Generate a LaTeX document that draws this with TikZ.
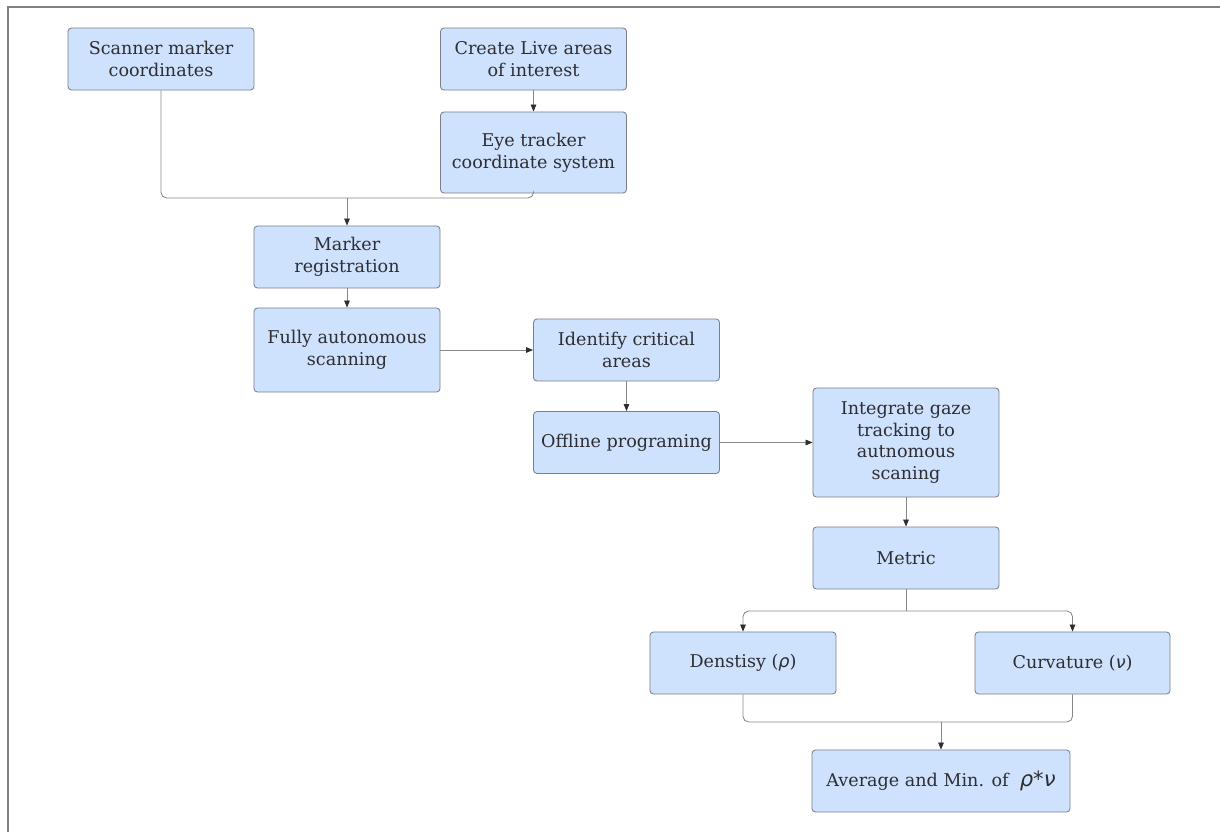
\documentclass[tikz,border=0pt]{standalone}
\usepackage{fontspec}
\setmainfont{DejaVu Serif}
\newfontfamily\greekfont{DejaVu Sans}
\usetikzlibrary{arrows.meta, positioning, calc}
\definecolor{myblue}{RGB}{207,226,253}
\definecolor{myedge}{RGB}{122,128,138}
\definecolor{myline}{RGB}{135,135,135}
\definecolor{mydark}{RGB}{45,45,50}
\definecolor{myframe}{RGB}{128,128,128}
\newcommand{\grk}[1]{{\greekfont\itshape #1}}
\tikzset{
  block/.style={rectangle, draw=myedge, fill=myblue,
    align=center, minimum width=4.65cm, minimum height=1.55cm,
    inner sep=2pt, font=\fontsize{12.5}{15.5}\selectfont, text=mydark,
    rounded corners=2.5pt, line width=0.6pt},
  arrow/.style={-{Triangle[length=5pt, width=4pt, color=mydark]},
    line width=0.6pt, color=myline, rounded corners=4pt},
  line/.style={line width=0.6pt, color=myline, rounded corners=4pt},
  frame/.style={line width=1.2pt, color=myframe}
}

\begin{document}
\begin{tikzpicture}[x=0.025cm, y=-0.025cm]
  \useasboundingbox (0,0) rectangle (1220,832);
  % Page frame (top and left edges only)
  \draw[frame] (8,832) -- (8,7) -- (1220,7);

  % Input blocks
  \node[block] (scan) at (161,59) {Scanner marker\\coordinates};
  \node[block] (live) at (533.5,59) {Create Live areas\\of interest};
  \node[block, minimum height=2.025cm] (eye) at (533.5,152.5) {Eye tracker\\coordinate system};

  % Registration and scanning
  \node[block] (marker) at (347,257) {Marker\\registration};
  \node[block, minimum height=2.1cm] (auto) at (347,350) {Fully autonomous\\scanning};
  \node[block] (crit) at (626.5,350) {Identify critical\\areas};
  \node[block] (offline) at (626.5,442.5) {Offline programing};
  \node[block, minimum height=2.725cm] (gaze) at (906,442.5) {Integrate gaze\\tracking to\\autnomous\\scaning};

  % Metric blocks
  \node[block] (metric) at (906,558) {Metric};
  \node[block] (dens) at (743,663) {Denstisy (\grk{ρ})};
  \node[block, minimum width=4.875cm] (curv) at (1072.5,663) {Curvature (\grk{ν})};
  \node[block, minimum width=6.45cm] (avg) at (941,781) {Average and Min. of \ {\fontsize{15}{15}\selectfont\grk{ρ*ν}}};

  % Join points
  \coordinate (j1) at (347,198);
  \coordinate (j2) at (906,611);
  \coordinate (j3) at (941,722);

  % Connectors
  \draw[arrow] (live) -- (eye);
  \draw[line] (scan.south) |- (j1) -| (eye.south);
  \draw[arrow] (j1) -- (marker);
  \draw[arrow] (marker) -- (auto);
  \draw[arrow] (auto) -- (crit);
  \draw[arrow] (crit) -- (offline);
  \draw[arrow] (offline) -- (gaze);
  \draw[arrow] (gaze) -- (metric);
  \draw[line] (metric.south) -- (j2);
  \draw[arrow] (j2) -| (dens.north);
  \draw[arrow] (j2) -| (curv.north);
  \draw[line] (dens.south) |- (j3) -| (curv.south);
  \draw[arrow] (j3) -- (avg);
\end{tikzpicture}
\end{document}
